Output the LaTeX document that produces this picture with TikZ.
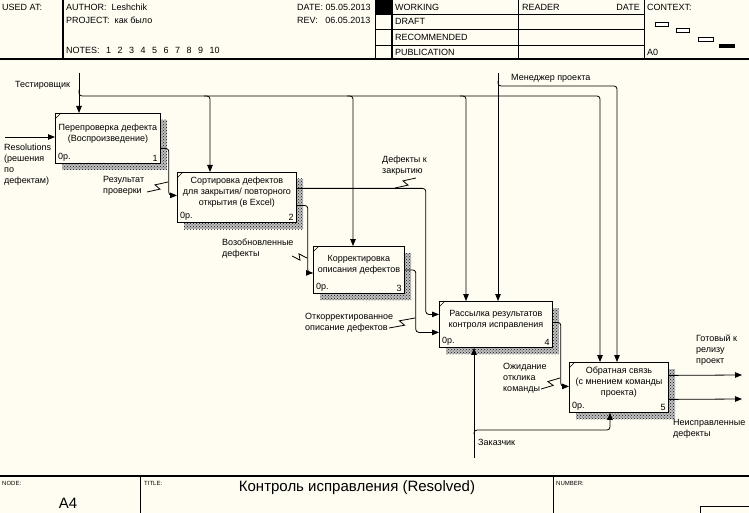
\documentclass[tikz,border=0pt]{standalone}
\usepackage{fontspec}
\setmainfont{Liberation Sans}
\usetikzlibrary{arrows.meta,calc,patterns}
\definecolor{paper}{RGB}{255,252,242}
\definecolor{hatch}{RGB}{20,20,20}
\tikzset{
  func/.style={draw, line width=0.8pt, fill=paper, inner sep=0pt, anchor=north west},
  ftext/.style={align=center, font=\fontsize{9}{11}\selectfont, inner sep=0pt},
  lbl/.style={align=left, font=\fontsize{9}{11}\selectfont, inner sep=0pt, anchor=north west},
  hdr/.style={font=\fontsize{9}{10}\selectfont, inner sep=0pt, anchor=west},
  tiny/.style={font=\fontsize{6}{7}\selectfont, inner sep=0pt, anchor=west},
  big/.style={font=\fontsize{15}{17}\selectfont, inner sep=0pt},
  arr/.style={line width=0.8pt, -{Triangle[length=7pt,width=5.5pt]}, rounded corners=3pt},
  shade/.style={preaction={fill=black!25}, pattern=crosshatch dots, pattern color=hatch}
}
\newcommand\actbox[7]{%
  \fill[shade] (#2+7,#3+7) rectangle (#2+#4+7,#3+#5+7);
  \node[func, minimum width=#4pt, minimum height=#5pt] (#1) at (#2,#3) {};
  \draw[line width=0.6pt] ([yshift=-6pt]#1.north west) -- ([xshift=6pt]#1.north west);
  \node[ftext] (#1t) at ([yshift=5pt]#1.center) {#6};
  \node[ftext, anchor=south west] (#1c) at ([shift={(3pt,2pt)}]#1.south west) {0р.};
  \node[ftext, anchor=south east] (#1n) at ([shift={(-3pt,2pt)}]#1.south east) {#7};
}
\newcommand\squig[2]{%
  \draw[line width=0.8pt] (#1) -- ($(#1)!.56!(#2)!3pt!-90:(#2)$)
    -- ($(#1)!.44!(#2)!3pt!90:(#2)$) -- (#2);
}
\newcommand\gap{\hspace{6.5pt}}
\begin{document}
\begin{tikzpicture}[x=1pt,y=-1pt]
\useasboundingbox[fill=paper] (0,0) rectangle (749,513);

\draw[line width=1.6pt] (0,59) -- (749,59);
\draw[line width=1.4pt] (63,0) -- (63,59);
\draw[line width=0.6pt] (375,0) -- (375,59);
\draw[line width=1.4pt] (392,0) -- (392,59);
\draw[line width=0.6pt] (518,0) -- (518,59);
\draw[line width=0.6pt] (644,0) -- (644,59);
\foreach \y in {14,29,45} \draw[line width=0.6pt] (375,\y) -- (644,\y);
\fill (375,0) rectangle (392,14);
\node[hdr] (used) at (2,7) {USED AT:};
\node[hdr] (auth) at (66,7) {AUTHOR:\ \ Leshchik};
\node[hdr] (proj) at (66,20) {PROJECT:\ \ как было};
\node[hdr] (notes) at (66,50) {NOTES:\gap 1\gap 2\gap 3\gap 4\gap 5\gap 6\gap 7\gap 8\gap 9\gap 10};
\node[hdr] (date) at (297,7) {DATE: 05.05.2013};
\node[hdr] (rev) at (297,20) {REV:\ \ \ 06.05.2013};
\node[hdr] (work) at (395,7) {WORKING};
\node[hdr] (draft) at (395,21) {DRAFT};
\node[hdr] (recom) at (395,37) {RECOMMENDED};
\node[hdr] (publ) at (395,52) {PUBLICATION};
\node[hdr] (reader) at (522,7) {READER};
\node[hdr, anchor=east] (rdate) at (640,7) {DATE};
\node[hdr] (ctx) at (647,7) {CONTEXT:};
\node[hdr] (ctxa) at (647,52) {A0};
\draw[line width=0.6pt, fill=white] (655,22) rectangle (668,26);
\draw[line width=0.6pt, fill=white] (676,28) rectangle (689,32);
\draw[line width=0.6pt, fill=white] (698,37) rectangle (713,41);
\fill (719,44) rectangle (735,48);

\draw[line width=1.6pt] (0,476) -- (749,476);
\draw[line width=0.6pt] (140,476) -- (140,513);
\draw[line width=0.6pt] (553,476) -- (553,513);
\draw[line width=0.6pt] (700,513) |- (749,506);
\node[tiny] (nodel) at (2,483) {NODE:};
\node[big] (nodeid) at (68,503) {A4};
\node[tiny] (titlel) at (144,483) {TITLE:};
\node[big] (title) at (357,488) {Контроль исправления (Resolved)};
\node[tiny] (numl) at (556,483) {NUMBER:};

\actbox{b1}{55}{113}{105}{50}{Перепроверка дефекта\\(Воспроизведение)}{1}
\actbox{b2}{177}{172}{119}{50}{Сортировка дефектов\\для закрытия/ повторного\\открытия (в Excel)}{2}
\actbox{b3}{313}{246}{91}{47}{Корректировка\\описания дефектов}{3}
\actbox{b4}{439}{301}{113}{46}{Рассылка результатов\\контроля исправления}{4}
\actbox{b5}{569}{362}{99}{50}{Обратная связь\\(с мнением команды\\проекта)}{5}

\coordinate (tst) at (79,73);
\coordinate (tsp) at (79,90);
\coordinate (c2) at (210,96);
\coordinate (c3) at (353,96);
\coordinate (c4) at (466,96);
\coordinate (c5a) at (600,96);
\draw[arr] (tst) -- (tst |- b1.north);
\draw[arr] (tsp) |- (c5a) -- (c5a |- b5.north);
\draw[arr] ([xshift=-6pt]c2) -- (c2) -- (c2 |- b2.north);
\draw[arr] ([xshift=-6pt]c3) -- (c3) -- (c3 |- b3.north);
\draw[arr] ([xshift=-6pt]c4) -- (c4) -- (c4 |- b4.north);
\node[hdr] (tstl) at (15,85) {Тестировщик};

\coordinate (mgr) at (498,73);
\coordinate (msp) at (498,81);
\coordinate (c5b) at (617,86);
\draw[arr] (mgr) -- (mgr |- b4.north);
\draw[arr] (msp) |- (c5b) -- (c5b |- b5.north);
\node[hdr] (mgrl) at (511,78) {Менеджер проекта};

\coordinate (res) at (5,137);
\draw[arr] (res) -- (res -| b1.west);
\node[lbl] (resl) at (4,144) {Resolutions\\(решения\\по\\дефектам)};

\draw[arr] ([yshift=-10pt]b1.east) -- ++(8pt,0) |- ([yshift=2pt]b2.west);
\node[lbl] (chk) at (103,176) {Результат\\проверки};
\squig{147,192}{168,182}

\draw[arr] ([yshift=9pt]b2.east) -- ++(129pt,0) |- ([yshift=10pt]b4.west);
\node[lbl] (close) at (382,156) {Дефекты к\\закрытию};
\squig{395,188}{416,178}

\draw[arr] ([yshift=-8pt]b2.east) -- ++(11pt,0) |- ([yshift=-3pt]b3.west);
\node[lbl] (reop) at (222,239) {Возобновленные\\дефекты};
\squig{292,256}{307,258}

\draw[arr] (b3.east) -- ++(11pt,0) |- ([yshift=-8pt]b4.west);
\node[lbl] (fixd) at (305,313) {Откорректированное\\описание дефектов};
\squig{389,328}{415,318}

\draw[arr] ([yshift=2pt]b4.east) -- ++(8pt,0) |- ([yshift=1pt]b5.west);
\node[lbl] (wait) at (503,363) {Ожидание\\отклика\\команды};
\squig{541,389}{560,378}

\coordinate (cus) at (474,458);
\coordinate (csp) at (474,434);
\coordinate (c5c) at (610,430);
\draw[arr] (cus) -- (cus |- b4.south);
\draw[arr] (csp) |- (c5c) -- (c5c |- b5.south);
\node[hdr] (cusl) at (478,442) {Заказчик};

\coordinate (rdy) at (742,375);
\coordinate (unf) at (742,399);
\draw[arr] ([yshift=12pt]b5.east) -- (rdy);
\draw[arr] ([yshift=-12pt]b5.east) -- (unf);
\node[lbl] (rdyl) at (696,335) {Готовый к\\релизу\\проект};
\node[lbl] (unfl) at (673,419) {Неисправленные\\дефекты};
\end{tikzpicture}
\end{document}
